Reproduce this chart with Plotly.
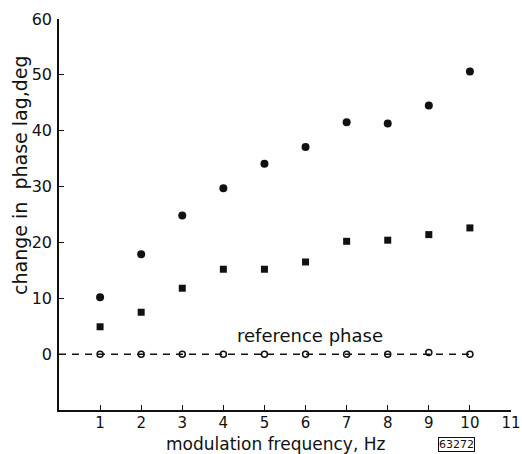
import plotly.graph_objects as go

freq = [1, 2, 3, 4, 5, 6, 7, 8, 9, 10]
lag_circles = [10.2, 17.9, 24.8, 29.7, 34.1, 37.1, 41.5, 41.3, 44.5, 50.6]
lag_squares = [4.9, 7.5, 11.8, 15.2, 15.2, 16.5, 20.2, 20.4, 21.4, 22.6]
ref_phase = [0, 0, 0, 0, 0, 0, 0, 0, 0.3, 0]
ref_line_x = [0, 10]
ref_line_y = [0, 0]
x_ticks = [1, 2, 3, 4, 5, 6, 7, 8, 9, 10, 11]
y_ticks = [0, 10, 20, 30, 40, 50, 60]

INK = "#111111"
FONT = "DejaVu Sans"

fig = go.Figure()
fig.add_trace(go.Scatter(x=ref_line_x, y=ref_line_y, mode="lines",
                         line=dict(color=INK, width=1.5, dash="7px,6px"),
                         showlegend=False, hoverinfo="skip"))
fig.add_trace(go.Scatter(x=freq, y=ref_phase, mode="markers",
                         marker=dict(symbol="circle-open", size=6, color=INK,
                                     line=dict(width=1.5, color=INK)),
                         showlegend=False))
fig.add_trace(go.Scatter(x=freq, y=lag_circles, mode="markers",
                         marker=dict(symbol="circle", size=8, color=INK),
                         showlegend=False))
fig.add_trace(go.Scatter(x=freq, y=lag_squares, mode="markers",
                         marker=dict(symbol="square", size=7, color=INK),
                         showlegend=False))

fig.add_annotation(x=6.1, y=3.4, text="reference phase", showarrow=False,
                   font=dict(family=FONT, size=18, color=INK))
fig.add_annotation(xref="paper", yref="paper", x=0.48, y=-0.087,
                   text="modulation frequency, Hz", showarrow=False,
                   xanchor="center", yanchor="middle",
                   font=dict(family=FONT, size=17, color=INK))
fig.add_annotation(xref="paper", yref="paper", x=0.88, y=-0.087,
                   text="63272", showarrow=False,
                   xanchor="center", yanchor="middle",
                   bordercolor=INK, borderwidth=1, borderpad=0,
                   font=dict(family=FONT, size=11, color=INK))
fig.add_annotation(xref="paper", yref="paper", x=-0.085, y=0.6,
                   text="change in  phase lag,deg", showarrow=False,
                   textangle=-90, xanchor="center", yanchor="middle",
                   font=dict(family=FONT, size=19, color=INK))

fig.update_xaxes(range=[0, 11], tickvals=x_ticks, ticktext=[str(v) for v in x_ticks],
                 showline=True, linecolor=INK, linewidth=1.5,
                 ticks="inside", ticklen=5, tickcolor=INK, tickwidth=1.2,
                 showgrid=False, zeroline=False, ticklabeloverflow="allow",
                 ticklabelstandoff=-2, automargin=False,
                 tickfont=dict(family=FONT, size=15, color=INK))
fig.update_yaxes(range=[-10, 60], tickvals=y_ticks, ticktext=[str(v) for v in y_ticks],
                 showline=True, linecolor=INK, linewidth=1.5,
                 ticks="inside", ticklen=5, tickcolor=INK, tickwidth=1.2,
                 showgrid=False, zeroline=False, ticklabelstandoff=2, automargin=False,
                 tickfont=dict(family=FONT, size=16, color=INK))

fig.update_layout(width=522, height=454, plot_bgcolor="white", paper_bgcolor="white",
                  margin=dict(l=59, r=11, t=19, b=44), showlegend=False)

# remove the default page margin so the 522x454 figure fills the window exactly
fig.write_html("out.html", config={"displayModeBar": False},
               post_script="document.body.style.margin='0';document.body.style.overflow='hidden';")
